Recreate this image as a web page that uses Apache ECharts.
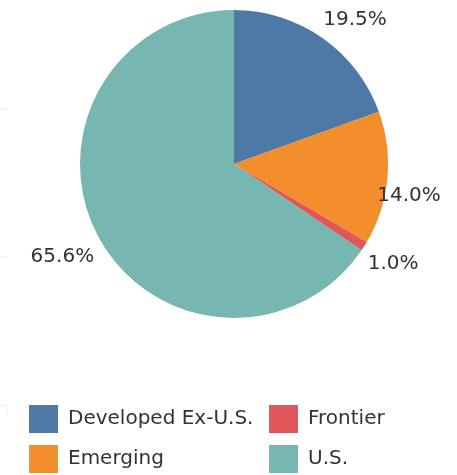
<!DOCTYPE html>
<html>
<head>
<meta charset="utf-8">
<script src="https://cdn.jsdelivr.net/npm/echarts@6/dist/echarts.min.js"></script>
<style>
    html, body { margin: 0; padding: 0; background: #fff; }
    #chart { width: 457px; height: 475px; }
</style>
</head>
<body>
<div id="chart"></div>
<script>
const categories = ["Developed Ex-U.S.", "Emerging", "Frontier", "U.S."];
const shares = [19.5, 14.0, 1.0, 65.6];
const colors = ["#4e79a7", "#f28e2b", "#e15759", "#76b7b2"];

// small nudges so the labels sit where the original tool put them
const label_nudge = [[-10, -10], [-25, 17], [-10, 12], [10, 16]];

const font_family = "'DejaVu Sans', sans-serif";

const pie_data = categories.map((name, i) => ({
    name: name,
    value: shares[i],
    itemStyle: { color: colors[i] },
}));

const chart = echarts.init(document.getElementById("chart"));

const legend_style = {
    orient: "vertical",
    top: 405,
    padding: 0,
    itemWidth: 29,
    itemHeight: 28,
    itemGap: 12,
    icon: "rect",
    selectedMode: false,
    textStyle: {
        fontFamily: font_family,
        fontSize: 20,
        color: "#333",
        padding: [0, 0, 0, 5],
    },
};

chart.setOption({
    animation: false,
    textStyle: { fontFamily: font_family },
    legend: [
        Object.assign({ left: 29, data: categories.slice(0, 2) }, legend_style),
        Object.assign({ left: 269, data: categories.slice(2, 4) }, legend_style),
    ],
    graphic: [
        { type: "line", shape: { x1: 0, y1: 109, x2: 8, y2: 109 }, style: { stroke: "#eee", lineWidth: 1 } },
        { type: "line", shape: { x1: 0, y1: 257, x2: 8, y2: 257 }, style: { stroke: "#eee", lineWidth: 1 } },
        { type: "polyline", shape: { points: [[0, 405], [7, 405], [7, 416]] }, style: { stroke: "#eee", fill: null, lineWidth: 1 } },
    ],
    series: [
        {
            type: "pie",
            center: [234, 164],
            radius: 154,
            startAngle: 90,
            clockwise: true,
            avoidLabelOverlap: false,
            label: {
                show: true,
                position: "outside",
                formatter: (p) => p.value.toFixed(1) + "%",
                fontSize: 20,
                color: "#333",
                fontFamily: font_family,
            },
            labelLine: { show: false, length: 10, length2: 0 },
            labelLayout: (p) => ({
                dx: label_nudge[p.dataIndex][0],
                dy: label_nudge[p.dataIndex][1],
            }),
            emphasis: { disabled: true },
            data: pie_data,
        },
    ],
});
</script>
</body>
</html>
